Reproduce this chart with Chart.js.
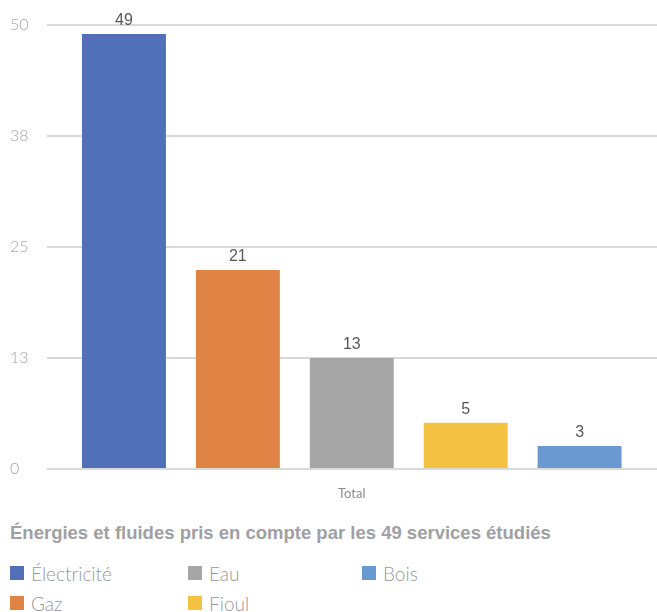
<!DOCTYPE html>
<html lang="fr">
<head>
<meta charset="utf-8">
<title>Énergies et fluides</title>
<script src="https://cdn.jsdelivr.net/npm/chart.js@4.4.1/dist/chart.umd.min.js"></script>
<style>
  body { margin: 0; background: #fff; }
  .wrap { width: 657px; height: 612px; position: relative; overflow: hidden; }
  #chart { display: block; }
  .titre {
    position: absolute; left: 10px; top: 522px;
    font-family: "Liberation Sans Narrow", "Liberation Sans", sans-serif;
    font-weight: bold; font-size: 18.5px; color: #a0a0a4; white-space: nowrap;
  }
  .legende {
    position: absolute; left: 10px; top: 558px;
    display: grid; grid-template-columns: 178px 174px 140px;
    grid-auto-flow: column; grid-template-rows: 30px 30px;
    font-family: Lato, sans-serif; font-weight: 300; font-size: 19px; color: #98989c;
  }
  .legende span { display: flex; align-items: center; }
  .legende i { display: inline-block; width: 14px; height: 14px; margin-right: 7px; }
</style>
</head>
<body>
<div class="wrap">
  <canvas id="chart" width="657" height="514"></canvas>
  <div class="titre">Énergies et fluides pris en compte par les 49 services étudiés</div>
  <div class="legende" id="legende"></div>
</div>
<script>
const categories = ['Total'];
const series = ['Électricité', 'Gaz', 'Eau', 'Fioul', 'Bois'];
// hauteur des barres
const valeurs = [49, 22.4, 12.5, 5.2, 2.6];
// nombres affichés au-dessus des barres
const etiquettes = ['49', '21', '13', '5', '3'];
const couleurs = ['#5170b7', '#df8444', '#a5a5a5', '#f4c242', '#6999d0'];
const ticksY = [0, 12.5, 25, 37.5, 50];

const valueLabels = {
  id: 'valueLabels',
  afterDatasetsDraw(chart) {
    const ctx = chart.ctx;
    ctx.save();
    ctx.font = '16px "Liberation Sans", Arial, sans-serif';
    ctx.fillStyle = '#595959';
    ctx.textAlign = 'center';
    ctx.textBaseline = 'bottom';
    chart.data.datasets.forEach((ds, i) => {
      const bar = chart.getDatasetMeta(i).data[0];
      ctx.fillText(etiquettes[i], bar.x, bar.y - 5);
    });
    ctx.restore();
  }
};

const datasets = series.map((nom, i) => ({
  label: nom,
  data: [valeurs[i]],
  backgroundColor: couleurs[i],
  borderWidth: 0,
  barPercentage: 0.737,
  categoryPercentage: 0.933
}));

new Chart(document.getElementById('chart'), {
  type: 'bar',
  data: { labels: categories, datasets },
  plugins: [valueLabels],
  options: {
    responsive: false,
    animation: false,
    layout: { padding: { left: 10, top: 25, right: 0, bottom: 0 } },
    plugins: {
      legend: { display: false },
      tooltip: { enabled: false }
    },
    scales: {
      x: {
        grid: { display: false },
        border: { display: false },
        afterFit: (axis) => { axis.height = 45; },
        ticks: { color: '#8c8c90', font: { family: 'Lato', size: 13 }, padding: 9 }
      },
      y: {
        min: 0,
        max: 50,
        afterBuildTicks: (axis) => { axis.ticks = ticksY.map(v => ({ value: v })); },
        grid: { color: '#d9d9d9', lineWidth: 2, drawTicks: false },
        border: { display: false },
        ticks: {
          color: '#a6a6aa',
          font: { family: 'Lato', size: 16, weight: 300 },
          crossAlign: 'far',
          padding: 9,
          callback: (v) => Math.round(v)
        }
      }
    }
  }
});

const leg = document.getElementById('legende');
series.forEach((nom, i) => {
  const s = document.createElement('span');
  s.innerHTML = '<i style="background:' + couleurs[i] + '"></i>' + nom;
  leg.appendChild(s);
});
</script>
</body>
</html>
